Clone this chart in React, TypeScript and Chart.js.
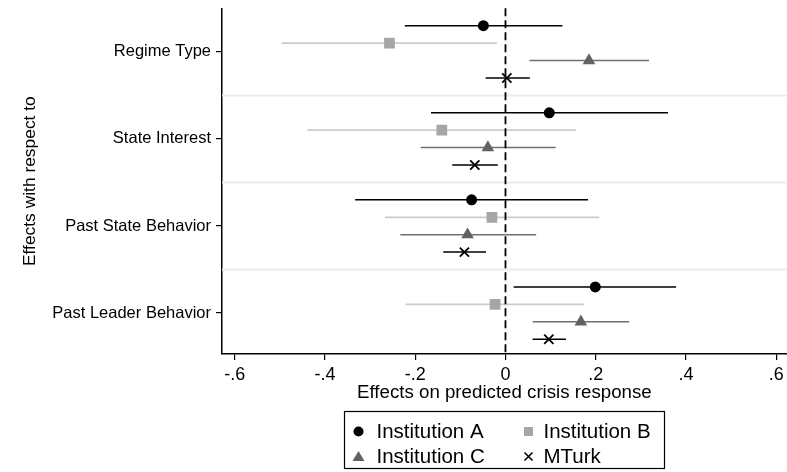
import React, { useEffect, useRef } from "react";
import { Chart, registerables } from "chart.js";

Chart.register(...registerables);

const categories = ["Regime Type", "State Interest", "Past State Behavior", "Past Leader Behavior"];
const seriesNames = ["Institution A", "Institution B", "Institution C", "MTurk"];

const estA = [-0.049, 0.097, -0.075, 0.199];
const lowA = [-0.223, -0.165, -0.333, 0.018];
const highA = [0.126, 0.36, 0.183, 0.378];

const estB = [-0.257, -0.141, -0.03, -0.023];
const lowB = [-0.496, -0.439, -0.267, -0.221];
const highB = [-0.019, 0.156, 0.208, 0.174];

const estC = [0.185, -0.039, -0.084, 0.167];
const lowC = [0.053, -0.188, -0.233, 0.06];
const highC = [0.318, 0.111, 0.068, 0.274];

const estM = [0.003, -0.068, -0.091, 0.096];
const lowM = [-0.044, -0.118, -0.138, 0.06];
const highM = [0.054, -0.017, -0.043, 0.134];

const xTickValues = [-0.6, -0.4, -0.2, 0, 0.2, 0.4, 0.6];
const separators = [1.5, 2.5, 3.5];
const slotOffsets = [-0.3, -0.1, 0.1, 0.3];

const seriesEst = [estA, estB, estC, estM];
const seriesLow = [lowA, lowB, lowC, lowM];
const seriesHigh = [highA, highB, highC, highM];

const seriesStyles = [
  { pointStyle: "circle", radius: 5.5, fill: "#000000", border: "#000000", borderWidth: 0, line: "#000000", lineWidth: 1.5 },
  { pointStyle: "rect", radius: 7.6, fill: "#a6a6a6", border: "#a6a6a6", borderWidth: 0, line: "#cbcbcb", lineWidth: 1.8 },
  { pointStyle: "triangle", radius: 7.3, fill: "#626262", border: "#626262", borderWidth: 0, line: "#707070", lineWidth: 1.5 },
  { pointStyle: "crossRot", radius: 6.5, fill: "#000000", border: "#000000", borderWidth: 1.8, line: "#000000", lineWidth: 1.5 },
];

const FONT = "'Liberation Sans', Arial, Helvetica, sans-serif";
const VIEW_W = 787;
const CANVAS_W = 795;
const CANVAS_H = 472;

function fmtTick(v: number): string {
  if (Math.abs(v) < 1e-9) return "0";
  const s = v.toFixed(1);
  return s.replace(/^(-?)0\./, "$1.");
}

const coefPlugin = {
  id: "coefPlot",
  beforeDatasetsDraw(chart: any) {
    const { ctx, chartArea, scales } = chart;
    const x = scales.x;
    const y = scales.y;
    ctx.save();
    ctx.strokeStyle = "#e6edf1";
    ctx.lineWidth = 2;
    separators.forEach((v) => {
      const py = y.getPixelForValue(v);
      ctx.beginPath();
      ctx.moveTo(chartArea.left, py);
      ctx.lineTo(chartArea.right, py);
      ctx.stroke();
    });
    chart.data.datasets.forEach((ds: any, di: number) => {
      const st = seriesStyles[di];
      ds.data.forEach((pt: any) => {
        const py = y.getPixelForValue(pt.y);
        ctx.strokeStyle = st.line;
        ctx.lineWidth = st.lineWidth;
        ctx.beginPath();
        ctx.moveTo(x.getPixelForValue(pt.lo), py);
        ctx.lineTo(x.getPixelForValue(pt.hi), py);
        ctx.stroke();
      });
    });
    const zx = x.getPixelForValue(0);
    ctx.setLineDash([8, 4]);
    ctx.strokeStyle = "#000";
    ctx.lineWidth = 1.8;
    ctx.beginPath();
    ctx.moveTo(zx, chartArea.top);
    ctx.lineTo(zx, chartArea.bottom);
    ctx.stroke();
    ctx.restore();
  },
  afterDraw(chart: any) {
    const { ctx, chartArea } = chart;
    const boxW = 320;
    const boxH = 57;
    const cx = (chartArea.left + chartArea.right) / 2;
    const left = Math.round(cx - boxW / 2) + 0.5;
    const top = chart.height - 4 - boxH + 0.5;
    ctx.save();
    ctx.strokeStyle = "#000";
    ctx.lineWidth = 1.2;
    ctx.strokeRect(left, top, boxW, boxH);
    const rows = [top + 20, top + 45];
    const markerX = [left + 14, left + 184];
    const textX = [left + 32, left + 199];
    ctx.font = `20.5px ${FONT}`;
    ctx.textBaseline = "middle";
    ctx.textAlign = "left";
    chart.data.datasets.forEach((ds: any, i: number) => {
      const col = i % 2;
      const row = Math.floor(i / 2);
      const mx = markerX[col];
      const my = rows[row];
      const st = seriesStyles[i];
      ctx.fillStyle = st.fill;
      ctx.strokeStyle = st.border;
      if (st.pointStyle === "circle") {
        ctx.beginPath();
        ctx.arc(mx, my, 5, 0, Math.PI * 2);
        ctx.fill();
      } else if (st.pointStyle === "rect") {
        ctx.fillRect(mx - 4.5, my - 4.5, 9, 9);
      } else if (st.pointStyle === "triangle") {
        ctx.beginPath();
        ctx.moveTo(mx, my - 5.5);
        ctx.lineTo(mx + 6, my + 4.5);
        ctx.lineTo(mx - 6, my + 4.5);
        ctx.closePath();
        ctx.fill();
      } else {
        ctx.lineWidth = 1.6;
        ctx.beginPath();
        ctx.moveTo(mx - 4, my - 4);
        ctx.lineTo(mx + 4, my + 4);
        ctx.moveTo(mx + 4, my - 4);
        ctx.lineTo(mx - 4, my + 4);
        ctx.stroke();
      }
      ctx.fillStyle = "#000";
      ctx.fillText(ds.label, textX[col], my + 1);
    });
    ctx.restore();
  },
};

export default function App() {
  const ref = useRef<HTMLCanvasElement | null>(null);

  useEffect(() => {
    if (!ref.current) return;
    const datasets = seriesNames.map((name, si) => {
      const st = seriesStyles[si];
      return {
        label: name,
        data: categories.map((_, ci) => ({
          x: seriesEst[si][ci],
          y: ci + 1 + slotOffsets[si],
          lo: seriesLow[si][ci],
          hi: seriesHigh[si][ci],
        })),
        pointStyle: st.pointStyle,
        pointRadius: st.radius,
        pointHoverRadius: st.radius,
        backgroundColor: st.fill,
        borderColor: st.border,
        borderWidth: st.borderWidth,
        showLine: false,
      };
    });

    const chart = new Chart(ref.current, {
      type: "scatter",
      data: { datasets: datasets as any },
      options: {
        responsive: false,
        animation: false,
        devicePixelRatio: 1,
        layout: { padding: { left: 0, right: 0, top: 2, bottom: 60 } },
        plugins: {
          legend: { display: false },
          tooltip: { enabled: false },
        },
        scales: {
          x: {
            type: "linear",
            min: -0.628,
            max: 0.623,
            afterBuildTicks: (scale: any) => {
              scale.ticks = xTickValues.map((v) => ({ value: v }));
            },
            afterFit: (scale: any) => {
              scale.height = 58;
              scale.paddingLeft = 0;
              scale.paddingRight = 0;
            },
            ticks: {
              callback: (v: any) => fmtTick(Number(v)),
              color: "#000",
              padding: 4,
              font: { family: FONT, size: 18 },
              maxRotation: 0,
              autoSkip: false,
            },
            grid: { drawOnChartArea: false, drawTicks: true, tickLength: 6, color: "#000", lineWidth: 1.2 },
            border: { color: "#000", width: 1.5 },
            title: {
              display: true,
              text: "Effects on predicted crisis response",
              color: "#000",
              font: { family: FONT, size: 18.7 },
              padding: { top: 0, bottom: 8 },
            },
          },
          y: {
            type: "linear",
            min: 0.5,
            max: 4.47,
            reverse: true,
            afterBuildTicks: (scale: any) => {
              scale.ticks = categories.map((_, i) => ({ value: i + 1 }));
            },
            afterFit: (scale: any) => {
              scale.width = 222;
              scale.paddingTop = 0;
              scale.paddingBottom = 0;
            },
            ticks: {
              callback: (v: any) => categories[Number(v) - 1] ?? "",
              color: "#000",
              padding: 5,
              font: { family: FONT, size: 16.5 },
              autoSkip: false,
            },
            grid: { drawOnChartArea: false, drawTicks: true, tickLength: 6, color: "#000", lineWidth: 1.2 },
            border: { color: "#000", width: 1.5 },
            title: {
              display: true,
              text: "Effects with respect to",
              color: "#000",
              font: { family: FONT, size: 17.4 },
              padding: { top: 20, bottom: 0 },
            },
          },
        },
      },
      plugins: [coefPlugin],
    });
    return () => chart.destroy();
  }, []);

  return (
    <div style={{ position: "absolute", left: 0, top: 0, width: VIEW_W, height: CANVAS_H, overflow: "hidden", background: "#fff" }}>
      <canvas ref={ref} width={CANVAS_W} height={CANVAS_H} style={{ display: "block", width: CANVAS_W, height: CANVAS_H }} />
    </div>
  );
}
